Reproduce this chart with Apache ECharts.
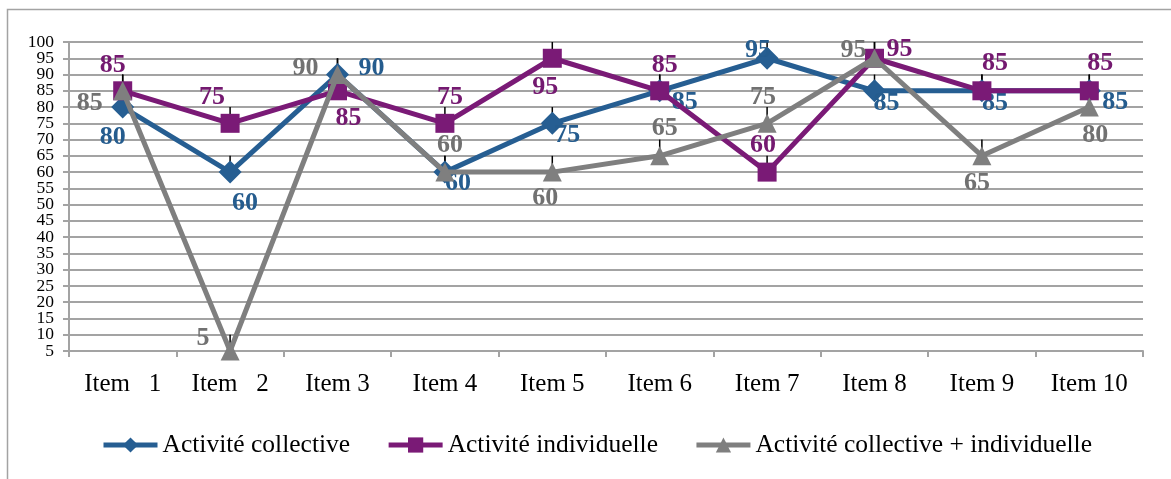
<!DOCTYPE html>
<html>
<head>
<meta charset="utf-8">
<script src="https://cdn.jsdelivr.net/npm/echarts@6/dist/echarts.min.js"></script>
<style>
  html, body { margin: 0; padding: 0; background: #fff; }
  #chart { width: 1171px; height: 479px; }
</style>
</head>
<body>
<div id="chart"></div>
<script>
// Categories and scores per activity type
const categories = ['Item   1', 'Item   2', 'Item 3', 'Item 4', 'Item 5', 'Item 6', 'Item 7', 'Item 8', 'Item 9', 'Item 10'];
const collective = [80, 60, 90, 60, 75, 85, 95, 85, 85, 85];
const individuelle = [85, 75, 85, 75, 95, 85, 60, 95, 85, 85];
const combinee = [85, 5, 90, 60, 60, 65, 75, 95, 65, 80];
const seriesNames = ['Activité collective', 'Activité individuelle', 'Activité collective + individuelle'];

// Score scale tick labels, bottom to top
const yTickLabels = ['5', '10', '15', '20', '25', '30', '35', '40', '45', '50',
                     '55', '60', '65', '70', '75', '80', '85', '90', '95', '100'];
const Y_MIN = 5;
const Y_MAX = 100;
const Y_STEP = 5;

// Positive error bar amount (drawn as a short black whisker above each point)
const ERR_PLUS = 5;

// Label offsets relative to each point's marker, per series
const offCollective = [[-10, 30], [15, 31], [34, -6], [13, 11], [15, 12], [25, 11], [-9, -8], [12, 12], [13, 12], [26, 11]];
const offIndividuelle = [[-10, -26], [-18, -26], [11, 27], [5, -26], [-7, 29], [5, -26], [-4, -27], [25, -9], [13, -28], [11, -28]];
const offCombinee = [[-33, 12], [-27, -13], [-32, -6], [5, -27], [-7, 26], [5, -28], [-4, -26], [-21, -8], [-5, 27], [6, 28]];

const FONT = "'Liberation Serif', 'Times New Roman', serif";
const COLORS = ['#265E92', '#7A1A76', '#7F7F7F'];
const LABEL_COLORS = ['#255C8E', '#741970', '#717171'];
const GRID_GRAY = '#A3A3A3';

function lineSeries(name, values, offsets, idx, symbol, size) {
  return {
    name: name,
    type: 'line',
    yAxisIndex: 0,
    z: 3 + idx,
    data: values,
    symbol: symbol,
    symbolSize: size,
    clip: false,
    lineStyle: { color: COLORS[idx], width: 5 },
    itemStyle: { color: COLORS[idx] },
    label: {
      show: true,
      position: 'inside',
      fontFamily: FONT,
      fontWeight: 'bold',
      fontSize: 26,
      color: LABEL_COLORS[idx]
    },
    labelLayout: function (params) {
      const o = offsets[params.dataIndex];
      return { dx: o[0], dy: o[1], hideOverlap: false };
    },
    emphasis: { disabled: true },
    animation: false
  };
}

function whiskers(values) {
  return {
    type: 'custom',
    yAxisIndex: 0,
    z: 2,
    silent: true,
    animation: false,
    data: values.map((v, i) => [i, v]),
    renderItem: function (params, api) {
      const p0 = api.coord([api.value(0), api.value(1)]);
      const p1 = api.coord([api.value(0), api.value(1) + ERR_PLUS]);
      return {
        type: 'line',
        shape: { x1: p0[0], y1: p0[1], x2: p1[0], y2: p1[1] },
        style: { stroke: '#000', lineWidth: 1.5 }
      };
    }
  };
}

const chart = echarts.init(document.getElementById('chart'), null, { renderer: 'canvas' });

chart.setOption({
  backgroundColor: '#fff',
  animation: false,
  graphic: [{
    type: 'rect',
    shape: { x: 7.5, y: 9.5, width: 1200, height: 520 },
    style: { fill: 'none', stroke: GRID_GRAY, lineWidth: 1.5 },
    silent: true,
    z: -10
  }],
  grid: { left: 69, right: 28, top: 42, bottom: 128, containLabel: false },
  legend: {
    data: seriesNames,
    left: 96,
    top: 427,
    itemWidth: 54,
    itemHeight: 19,
    itemGap: 36,
    lineStyle: { width: 5 },
    textStyle: { fontFamily: FONT, fontSize: 25.5, color: '#000' },
    selectedMode: false
  },
  xAxis: {
    type: 'category',
    data: categories,
    boundaryGap: true,
    axisLine: { lineStyle: { color: GRID_GRAY, width: 2 } },
    axisTick: { show: true, length: 6, alignWithLabel: false, lineStyle: { color: GRID_GRAY, width: 2 } },
    axisLabel: { fontFamily: FONT, fontSize: 25, color: '#000', margin: 21, interval: 0 },
    splitLine: { show: false }
  },
  yAxis: [
    {
      // value scale: drives the series, gridlines and ticks
      type: 'value',
      min: Y_MIN,
      max: Y_MAX,
      interval: Y_STEP,
      axisLine: { show: true, lineStyle: { color: GRID_GRAY, width: 2 } },
      axisTick: { show: true, length: 6, lineStyle: { color: GRID_GRAY, width: 2 } },
      axisLabel: { show: false },
      splitLine: { show: true, lineStyle: { color: GRID_GRAY, width: 2 } }
    },
    {
      // tick text, one label per gridline
      type: 'category',
      position: 'left',
      data: yTickLabels,
      boundaryGap: false,
      axisLine: { show: false },
      axisTick: { show: false },
      splitLine: { show: false },
      axisLabel: { fontFamily: FONT, fontSize: 17.5, color: '#000', margin: 15, interval: 0 }
    }
  ],
  series: [
    whiskers(collective),
    whiskers(individuelle),
    whiskers(combinee),
    lineSeries(seriesNames[0], collective, offCollective, 0, 'diamond', 23),
    lineSeries(seriesNames[1], individuelle, offIndividuelle, 1, 'rect', 19),
    lineSeries(seriesNames[2], combinee, offCombinee, 2, 'triangle', 19)
  ]
});
</script>
</body>
</html>
